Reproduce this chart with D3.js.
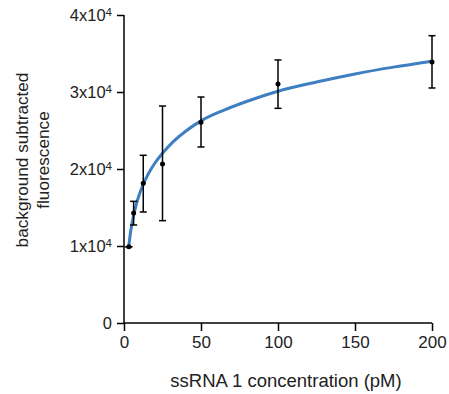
<!DOCTYPE html>
<html>
<head>
<meta charset="utf-8">
<script src="https://cdn.jsdelivr.net/npm/d3@7"></script>
<style>
  body { margin: 0; background: #fff; }
  svg { font-family: "Liberation Sans", Arial, sans-serif; }
</style>
</head>
<body>
<figure id="chart" style="margin:0"></figure>
<script>
// measured points (pM vs fluorescence)
const conc = [3.125, 6.25, 12.5, 25, 50, 100, 200];
const signal = [9900, 14300, 18140, 20650, 26080, 31040, 33900];
const errLow = [9900, 12730, 14420, 13290, 22860, 27880, 30520];
const errHigh = [9900, 15800, 21780, 28180, 29350, 34160, 37310];

// fitted curve
const fitX = [3.125, 4, 5, 6.25, 8, 10, 12.5, 16, 20, 25, 32, 40, 50, 65, 80, 100, 125, 150, 175, 200];
const fitY = [10000, 11425, 12712, 14000, 15424, 16711, 18000, 19450, 20750, 22050, 23550, 24900, 26250, 27650, 28800, 30100, 31300, 32350, 33230, 34000];

const xTicks = [0, 50, 100, 150, 200];
const yTicks = [0, 1, 2, 3, 4];

const W = 449, H = 394;
const x = d3.scaleLinear().domain([0, 200]).range([124, 432]);
const y = d3.scaleLinear().domain([0, 40000]).range([323, 15]);

const svg = d3.select("figure#chart").append("svg")
  .attr("width", W).attr("height", H);

// x axis
const xAxis = svg.append("g")
  .attr("transform", "translate(0," + y(0) + ")")
  .call(d3.axisBottom(x).tickValues(xTicks).tickSize(8).tickPadding(5).tickSizeOuter(0));
xAxis.select(".domain").attr("d", "M" + x(0) + ",0H" + x(200));
xAxis.selectAll("line, path").attr("stroke", "#000").attr("stroke-width", 1.5);
xAxis.selectAll("text").attr("font-size", 17).attr("fill", "#222")
  .attr("font-family", "Liberation Sans, Arial, sans-serif");

// y axis
const yAxis = svg.append("g")
  .attr("transform", "translate(" + x(0) + ",0)")
  .call(d3.axisLeft(y).tickValues(yTicks.map(d => d * 10000)).tickSize(7).tickPadding(5).tickSizeOuter(0)
    .tickFormat(() => ""));
yAxis.select(".domain").attr("d", "M0," + y(40000) + "V" + y(0));
yAxis.selectAll("line, path").attr("stroke", "#000").attr("stroke-width", 1.5);
yAxis.selectAll(".tick text").each(function(d) {
  const t = d3.select(this)
    .attr("font-size", 16.5).attr("fill", "#222")
    .attr("font-family", "Liberation Sans, Arial, sans-serif");
  const k = d / 10000;
  if (k === 0) { t.text("0"); return; }
  t.append("tspan").text(k + "x10");
  t.append("tspan").attr("font-size", 11.5).attr("dy", "-0.45em").text("4");
});

// fit curve
svg.append("path")
  .datum(fitX.map((d, i) => [d, fitY[i]]))
  .attr("fill", "none")
  .attr("stroke", "#3d7fc0")
  .attr("stroke-width", 3)
  .attr("d", d3.line().x(d => x(d[0])).y(d => y(d[1])).curve(d3.curveMonotoneX));

// error bars
const eb = svg.append("g").selectAll("g").data(conc).enter().append("g");
eb.append("line")
  .attr("x1", d => x(d)).attr("x2", d => x(d))
  .attr("y1", (d, i) => y(errLow[i])).attr("y2", (d, i) => y(errHigh[i]))
  .attr("stroke", "#000").attr("stroke-width", 1.5);
eb.append("line")
  .attr("x1", d => x(d) - 3.5).attr("x2", d => x(d) + 3.5)
  .attr("y1", (d, i) => y(errLow[i])).attr("y2", (d, i) => y(errLow[i]))
  .attr("stroke", "#000").attr("stroke-width", 1.5);
eb.append("line")
  .attr("x1", d => x(d) - 3.5).attr("x2", d => x(d) + 3.5)
  .attr("y1", (d, i) => y(errHigh[i])).attr("y2", (d, i) => y(errHigh[i]))
  .attr("stroke", "#000").attr("stroke-width", 1.5);

// points
svg.append("g").selectAll("circle").data(conc).enter().append("circle")
  .attr("cx", d => x(d)).attr("cy", (d, i) => y(signal[i]))
  .attr("r", 2.5).attr("fill", "#000");

// axis titles
svg.append("text")
  .attr("x", 286).attr("y", 387)
  .attr("text-anchor", "middle")
  .attr("font-size", 18.5).attr("fill", "#222")
  .text("ssRNA 1 concentration (pM)");

const yt = svg.append("text")
  .attr("transform", "translate(28,160) rotate(-90)")
  .attr("text-anchor", "middle")
  .attr("font-size", 17.2).attr("fill", "#222");
yt.append("tspan").attr("x", 0).attr("dy", 0).text("background subtracted");
yt.append("tspan").attr("x", 0).attr("dy", "1.2em").text("fluorescence");
</script>
</body>
</html>
